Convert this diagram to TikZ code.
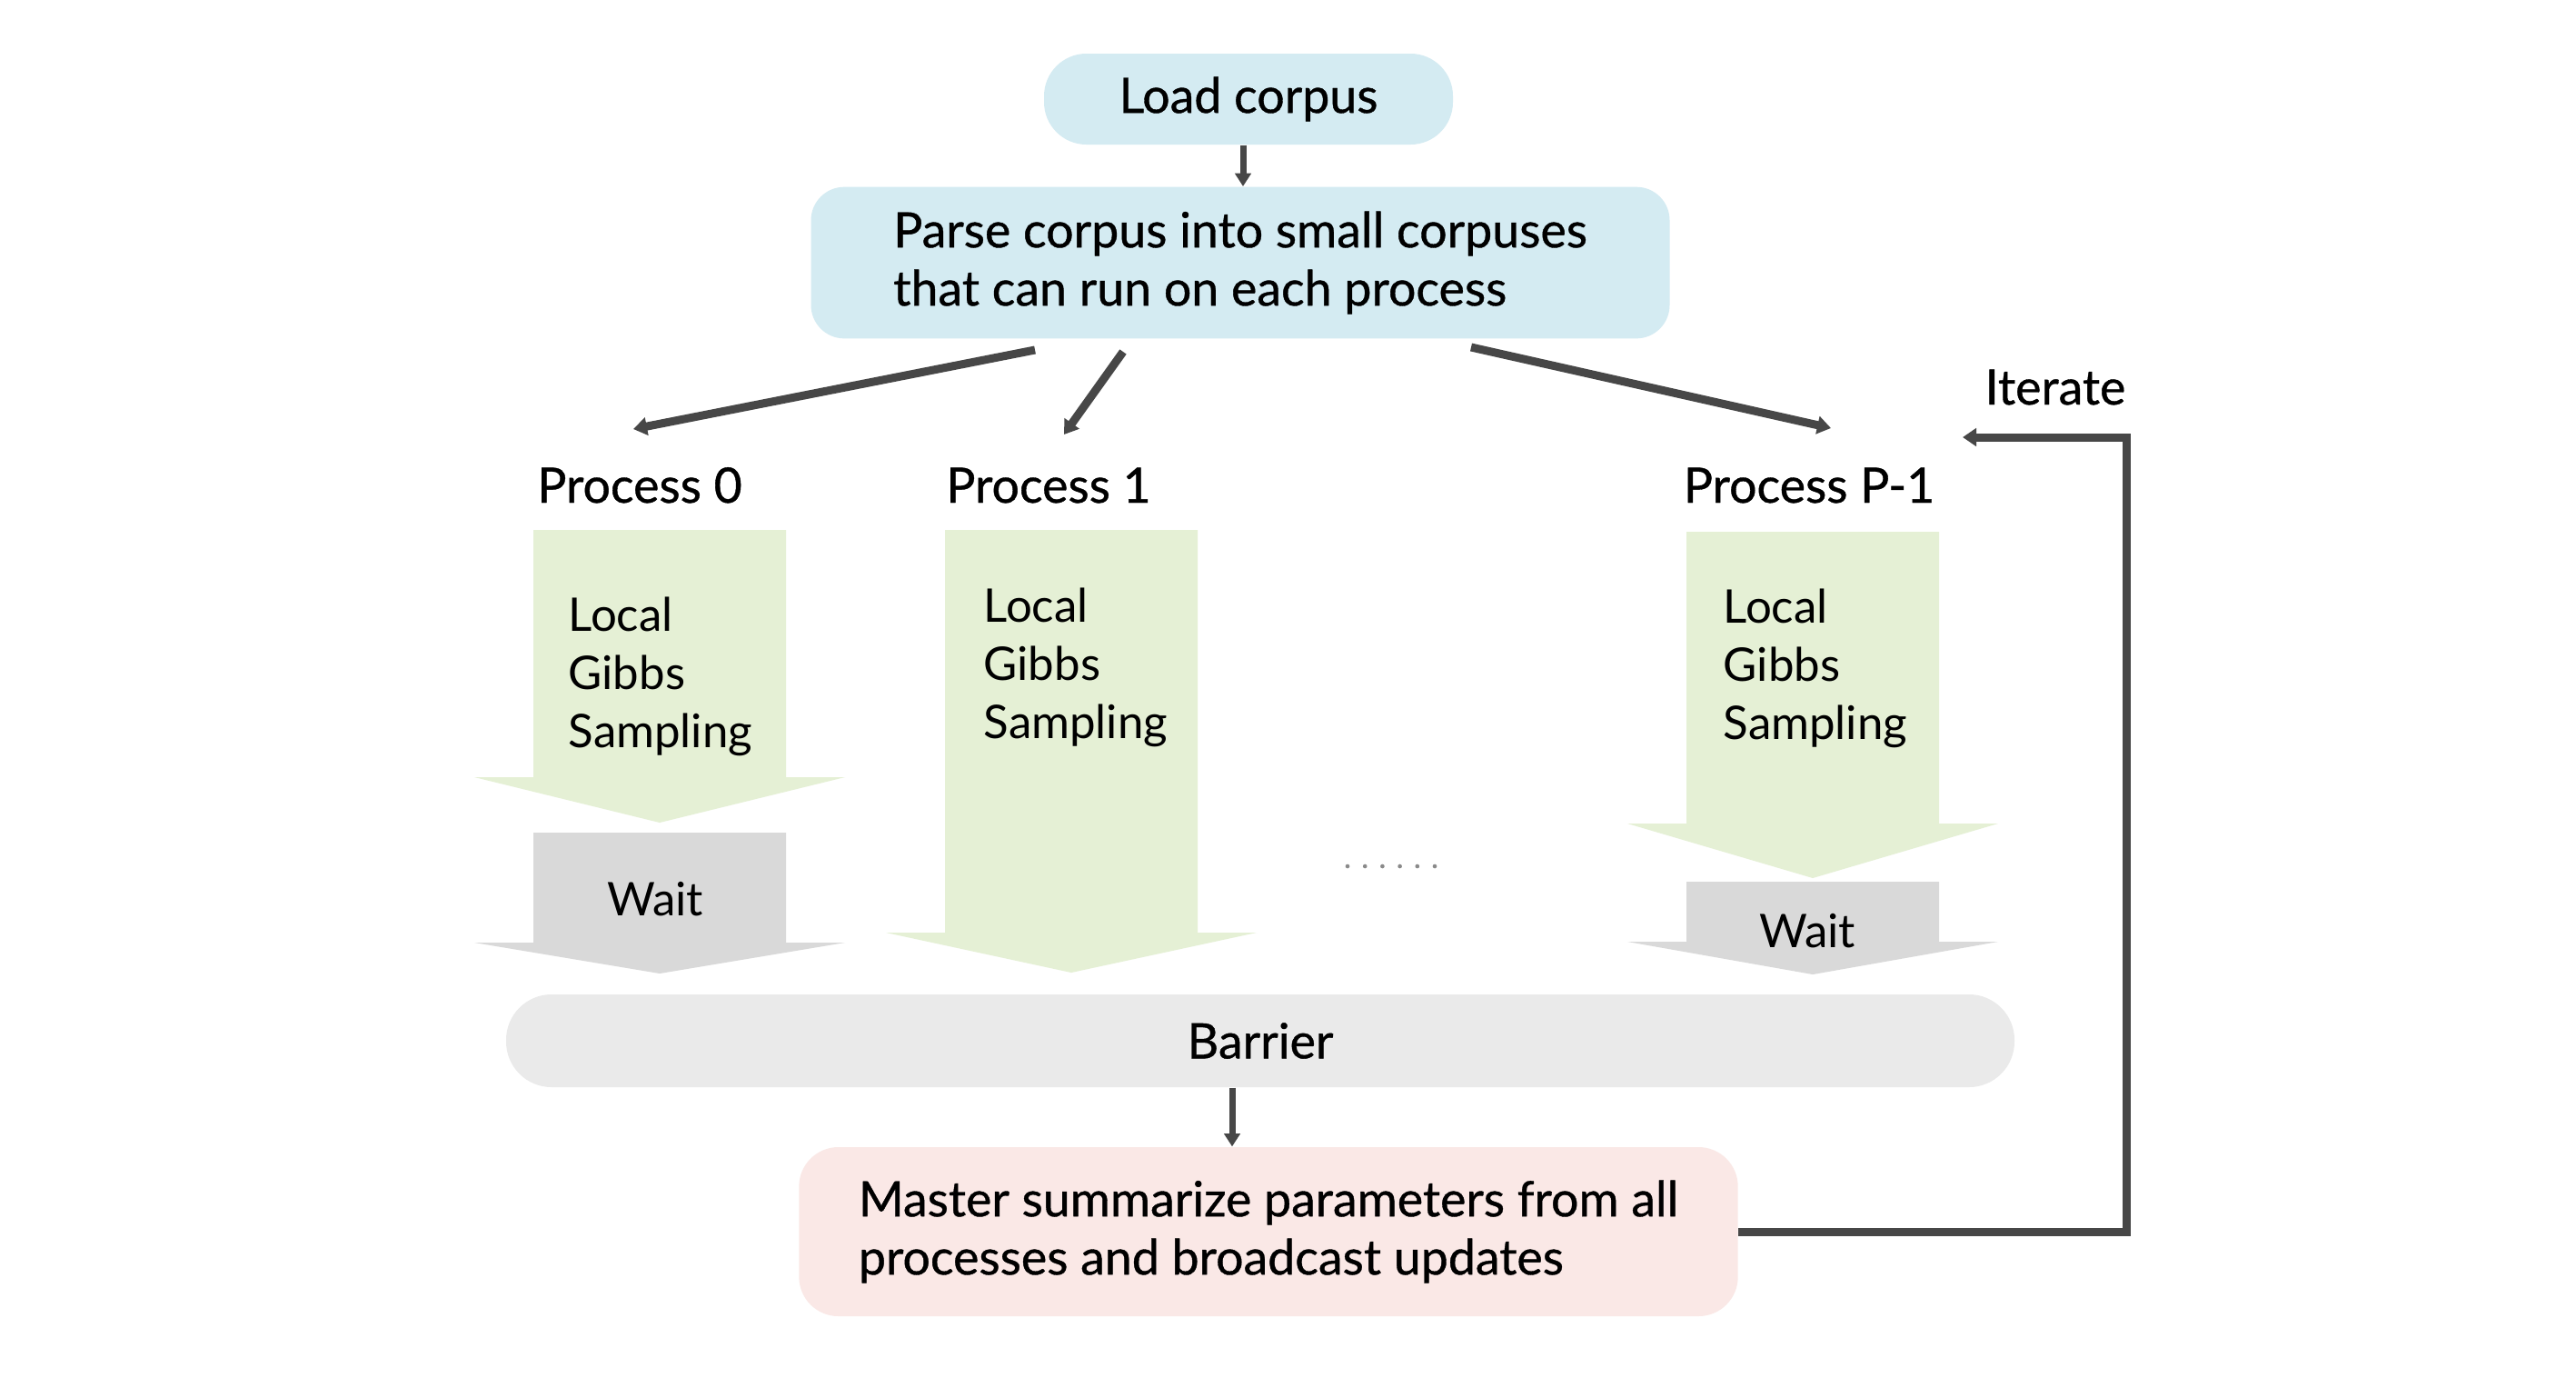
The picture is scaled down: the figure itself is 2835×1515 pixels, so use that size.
\documentclass[tikz,border=0pt]{standalone}
\usepackage{fontspec}
\setmainfont{Lato}
\newfontfamily\medfont{Lato}[FakeBold=0.7]
\usetikzlibrary{arrows.meta}
\definecolor{boxblue}{HTML}{D4EBF2}
\definecolor{boxgreen}{HTML}{E5F0D5}
\definecolor{boxgray}{HTML}{D9D9D9}
\definecolor{barriergray}{HTML}{EAEAEA}
\definecolor{boxpink}{HTML}{FAE8E6}
\definecolor{arrowgray}{HTML}{474747}
\definecolor{dotgray}{HTML}{8A8A8A}
\begin{document}
\begin{tikzpicture}[x=0.3pt,y=-0.3pt,
  txt/.style={font=\medfont\fontsize{16.1}{19.2}\selectfont, text=black},
  lighttxt/.style={font=\fontsize{15.3}{19.2}\selectfont, text=black},
  roundbox/.style={txt, inner sep=0pt, align=left},
  conn/.style={draw=arrowgray, line width=2.7pt, -{Triangle[width=5.8pt,length=4.5pt]}},
  thinconn/.style={draw=arrowgray, line width=2.1pt, -{Triangle[width=5.2pt,length=4.3pt]}},
  label/.style={txt, anchor=base, inner sep=0pt},
  inner/.style={lighttxt, anchor=base west, inner sep=0pt, text width=90pt, align=left},
  waitlabel/.style={lighttxt, anchor=base, inner sep=0pt},
]
\useasboundingbox (0,0) rectangle (2835,1515);
\fill[white] (0,0) rectangle (2835,1515);

% top boxes
\node[roundbox, fill=boxblue, rounded corners=14pt, minimum width=135pt, minimum height=30pt, align=center] (load) at (1374,109) {Load corpus};
\node[roundbox, fill=boxblue, rounded corners=11pt, minimum width=283.5pt, minimum height=50pt] (parse) at (1365,289) {Parse corpus into small corpuses\\that can run on each process};

% process labels
\node[label] (p0) at (704,553) {Process 0};
\node[label] (p1) at (1154,553) {Process 1};
\node[label] (pp) at (1991,553) {Process P-1};
\node[label] (iter) at (2262,445) {Iterate};

% block arrows: process 0
\fill[boxgreen] (587,583) -- (865,583) -- (865,855) -- (930,855) -- (726,905) -- (522,855) -- (587,855) -- cycle;
\fill[boxgray] (587,916) -- (865,916) -- (865,1037) -- (930,1037) -- (726,1071) -- (522,1037) -- (587,1037) -- cycle;
% process 1
\fill[boxgreen] (1040,583) -- (1318,583) -- (1318,1026) -- (1383,1026) -- (1179,1070) -- (975,1026) -- (1040,1026) -- cycle;
% process P-1
\fill[boxgreen] (1856,585) -- (2134,585) -- (2134,906) -- (2199,906) -- (1995,966) -- (1791,906) -- (1856,906) -- cycle;
\fill[boxgray] (1856,970) -- (2134,970) -- (2134,1036) -- (2199,1036) -- (1995,1072) -- (1791,1036) -- (1856,1036) -- cycle;

\node[inner] (g0) at (625,694) {Local\\Gibbs\\Sampling};
\node[inner] (g1) at (1082,684) {Local\\Gibbs\\Sampling};
\node[inner] (gp) at (1896,685) {Local\\Gibbs\\Sampling};
\node[waitlabel] (w0) at (721,1007) {Wait};
\node[waitlabel] (wp) at (1989,1042) {Wait};

% dots
\foreach \i in {0,...,5} {
  \fill[dotgray] (1483+19.2*\i,953) circle (0.7pt);
}

% barrier and master
\node[roundbox, fill=barriergray, rounded corners=15pt, minimum width=498pt, minimum height=30.6pt, align=center] (barrier) at (1387,1145) {Barrier};
\node[roundbox, fill=boxpink, rounded corners=13pt, minimum width=310pt, minimum height=55.8pt] (master) at (1396,1355) {Master summarize parameters from all\\processes and broadcast updates};

% connectors
\draw[thinconn] (load.south -| 1368,0) -- (parse.north -| 1368,0);
\coordinate (s0) at (1139,385);
\coordinate (t0) at (697,472);
\coordinate (s1) at (1236,387);
\coordinate (t1) at (1171,478);
\coordinate (s2) at (1619,382);
\coordinate (t2) at (2015,471);
\draw[conn] (s0) -- (t0);
\draw[conn] (s1) -- (t1);
\draw[conn] (s2) -- (t2);
\draw[thinconn] (barrier.south -| 1356,0) -- (master.north -| 1356,0);
\coordinate (loopcorner) at (2340,1355);
\coordinate (looptip) at (2160,481);
\draw[draw=arrowgray, line width=2.7pt, -{Triangle[width=5.8pt,length=4.5pt]}] (master.east) -- (loopcorner) |- (looptip);
\end{tikzpicture}
\end{document}
